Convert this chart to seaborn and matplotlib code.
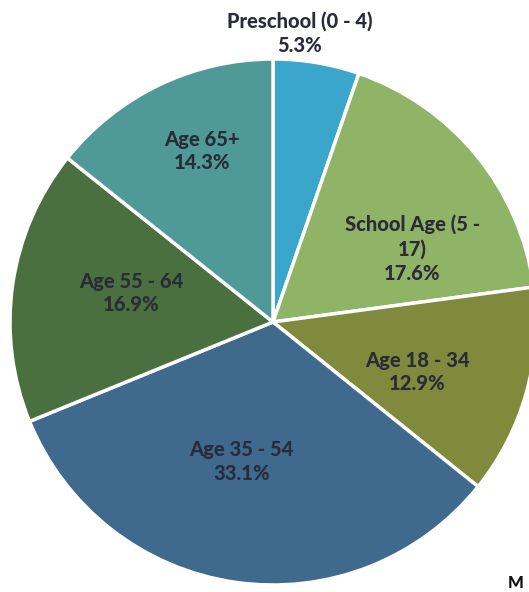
import matplotlib
matplotlib.use("Agg")
import matplotlib.pyplot as plt
import seaborn as sns
import numpy as np

categories = ["Preschool (0 - 4)", "School Age (5 -\n17)", "Age 18 - 34",
              "Age 35 - 54", "Age 55 - 64", "Age 65+"]
values = [5.3, 17.6, 12.9, 33.1, 16.9, 14.3]
colors = ["#3aa6cc", "#8fb466", "#7f8a3c", "#3f6a8e", "#4b7040", "#4f9a98"]
# label anchor positions (data units, pie radius = 1)
label_pos = [(0.10, 1.10), (0.53, 0.28), (0.55, -0.19),
             (-0.12, -0.53), (-0.54, 0.11), (-0.27, 0.65)]

sns.set_theme(style="white")
plt.rcParams['font.family'] = ['Lato', 'DejaVu Sans']

W, H = 529, 592
fig = plt.figure(figsize=(W / 100, H / 100), dpi=100)
cx, cy, R = 273, 322, 263
ax = fig.add_axes([(cx - R) / W, (H - cy - R) / H, 2 * R / W, 2 * R / H])
ax.pie(values, colors=colors, startangle=90, counterclock=False,
       wedgeprops=dict(edgecolor="white", linewidth=2.5))
ax.set_xlim(-1, 1)
ax.set_ylim(-1, 1)
ax.set_aspect("equal")
ax.axis("off")

for cat, val, (x, y) in zip(categories, values, label_pos):
    ax.text(x, y, f"{cat}\n{val:.1f}%", ha="center", va="center",
            fontsize=14.5, fontweight="black", color="#2a2b38",
            linespacing=1.3, clip_on=False)

fig.text(508 / W, 1 / H, "M", ha="left", va="bottom", fontsize=12,
         fontweight="black", color="#111111")

fig.savefig("out.png", dpi=100)
